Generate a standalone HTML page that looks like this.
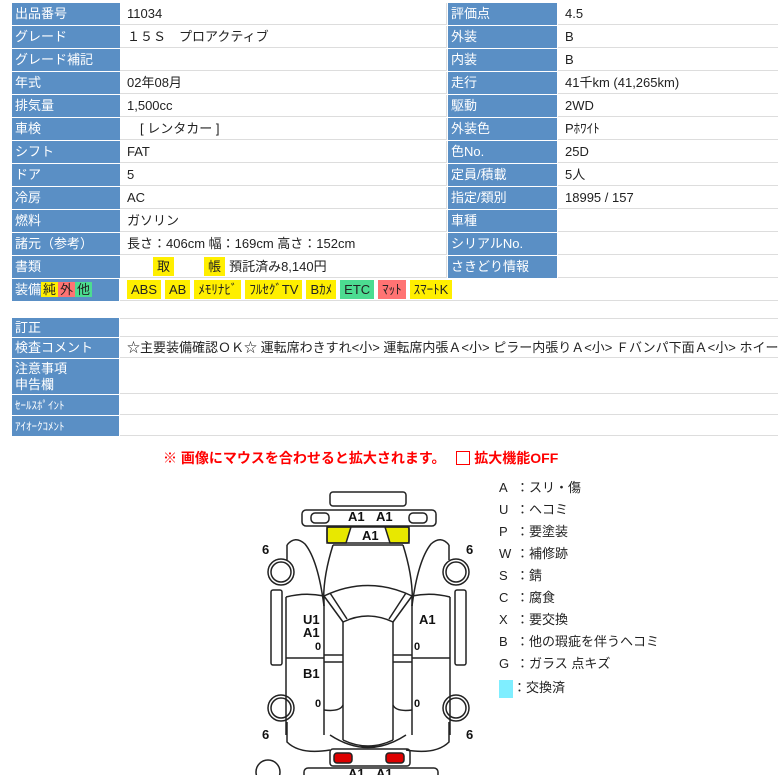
<!DOCTYPE html>
<html><head><meta charset="utf-8"><style>
body{margin:0;width:778px;height:775px;overflow:hidden;background:#fff;font-family:"Liberation Sans","Noto Sans CJK JP",sans-serif;font-size:13px;color:#222;position:relative}
.l{position:absolute;background:#5a8fc5;color:#fff;padding-left:3px;box-sizing:border-box}
.v{position:absolute;padding-left:7px;box-sizing:border-box;white-space:nowrap;overflow:hidden}
.y{background:#ffef00;padding:0 4px;display:inline-block;line-height:19px;margin-right:4px}
.g{background:#4cdc91}.p{background:#ff7373}
.lg{position:absolute;left:499px;font-size:13px;white-space:nowrap}
.lg b{font-weight:normal;display:inline-block;width:17px}
</style></head><body>
<div id="c"></div>
<script>
var L=[["出品番号","11034"],["グレード","１５Ｓ　プロアクティブ"],["グレード補記",""],["年式","02年08月"],["排気量","1,500cc"],["車検","　[ レンタカー ]"],["シフト","FAT"],["ドア","5"],["冷房","AC"],["燃料","ガソリン"],["諸元（参考）","長さ：406cm 幅：169cm 高さ：152cm"],["書類","　　<span class='y'>取</span>　　<span class='y'>帳</span>預託済み8,140円"]];
var R=[["評価点","4.5"],["外装","B"],["内装","B"],["走行","41千km (41,265km)"],["駆動","2WD"],["外装色","Pﾎﾜｲﾄ"],["色No.","25D"],["定員/積載","5人"],["指定/類別","18995 / 157"],["車種",""],["シリアルNo.",""],["さきどり情報",""]];
var h="";
for(var i=0;i<12;i++){var y=3+i*23;
h+="<div class='l' style='left:12px;top:"+y+"px;width:108px;height:22px;line-height:22px'>"+L[i][0]+"</div><div class='v' style='left:120px;top:"+y+"px;width:327px;height:22px;line-height:22px;border-bottom:1px solid #ddd;border-right:1px solid #ddd'>"+L[i][1]+"</div>";
h+="<div class='l' style='left:448px;top:"+y+"px;width:109px;height:22px;line-height:22px'>"+R[i][0]+"</div><div class='v' style='left:558px;top:"+y+"px;width:220px;height:22px;line-height:22px;border-bottom:1px solid #ddd'>"+R[i][1]+"</div>";}
h+="<div class='l' style='left:12px;top:279px;width:107px;height:22px;line-height:22px'>装備<span style='background:#ffef00;color:#222;padding:0 2px'>純</span><span style='background:#ff7373;color:#222;padding:0 2px'>外</span><span style='background:#4cdc91;color:#222;padding:0 2px'>他</span></div>";
h+="<div class='v' style='left:120px;top:279px;width:658px;height:22px;line-height:19px;padding-top:1px;border-bottom:1px solid #ddd'><span class='y'>ABS</span><span class='y'>AB</span><span class='y'>ﾒﾓﾘﾅﾋﾞ</span><span class='y'>ﾌﾙｾｸﾞTV</span><span class='y'>Bｶﾒ</span><span class='y g'>ETC</span><span class='y p'>ﾏｯﾄ</span><span class='y'>ｽﾏｰﾄK</span></div>";
var B=[["訂正",318,19],["検査コメント",338,20],["注意事項<br>申告欄",359,35],["<span style='font-size:11px'>ｾｰﾙｽﾎﾟｲﾝﾄ</span>",395,20],["<span style='font-size:11px'>ｱｲｵｰｸｺﾒﾝﾄ</span>",416,20]];
for(var j=0;j<5;j++){var b=B[j];h+="<div class='l' style='left:12px;top:"+b[1]+"px;width:107px;height:"+b[2]+"px;line-height:"+(j==2?"16px;padding-top:2px":b[2]+"px")+"'>"+b[0]+"</div><div class='v' style='left:120px;top:"+b[1]+"px;width:658px;height:"+b[2]+"px;line-height:"+b[2]+"px;border-bottom:1px solid #ddd;border-top:"+(j==0?"1px solid #ddd":"0")+"'>"+(j==1?"☆主要装備確認ＯＫ☆ 運転席わきすれ&lt;小&gt; 運転席内張Ａ&lt;小&gt; ピラー内張りＡ&lt;小&gt; Ｆバンパ下面Ａ&lt;小&gt; ホイールカバ":"")+"</div>";}
document.getElementById("c").innerHTML=h;
</script>
<div style="position:absolute;left:163px;top:448px;color:#f00;font-weight:bold;font-size:14px;white-space:nowrap">※ 画像にマウスを合わせると拡大されます。　 <span style="display:inline-block;width:12px;height:12px;border:1px solid #f00;vertical-align:-2px"></span> 拡大機能OFF</div>
<div class="lg" style="top:477px"><b>A</b>：スリ・傷</div>
<div class="lg" style="top:499px"><b>U</b>：ヘコミ</div>
<div class="lg" style="top:521px"><b>P</b>：要塗装</div>
<div class="lg" style="top:543px"><b>W</b>：補修跡</div>
<div class="lg" style="top:565px"><b>S</b>：錆</div>
<div class="lg" style="top:587px"><b>C</b>：腐食</div>
<div class="lg" style="top:609px"><b>X</b>：要交換</div>
<div class="lg" style="top:631px"><b>B</b>：他の瑕疵を伴うヘコミ</div>
<div class="lg" style="top:653px"><b>G</b>：ガラス 点キズ</div>
<div class="lg" style="top:677px"><span style="display:inline-block;width:14px;height:18px;background:#7feeff;vertical-align:middle"></span>：交換済</div>
<svg style="position:absolute;left:0;top:0" width="778" height="775" fill="none" stroke="#222" stroke-width="1.5" font-family="Liberation Sans" font-weight="bold" font-size="13">
<rect x="330" y="492" width="76" height="14" rx="3"/>
<rect x="302" y="510" width="134" height="16" rx="4"/>
<rect x="311" y="513" width="18" height="10" rx="4"/><rect x="409" y="513" width="18" height="10" rx="4"/>
<path d="M327 527 H351 L346 543 H327 Z" fill="#e8e800"/><path d="M385 527 H409 V543 H390 Z" fill="#e8e800"/>
<rect x="327" y="527" width="82" height="16" rx="2"/>
<path d="M333 545 Q322 580 324 606 M403 545 Q414 580 412 606 M333 545 H403"/>
<path d="M287 545 Q295 535 305 544 Q318 560 324 606 M449 545 Q441 535 431 544 Q418 560 412 606"/>
<path d="M287 545 V560 M449 545 V560"/>
<circle cx="281" cy="572" r="13"/><circle cx="281" cy="572" r="10"/><circle cx="456" cy="572" r="13"/><circle cx="456" cy="572" r="10"/>
<rect x="271" y="590" width="11" height="75" rx="2"/><rect x="455" y="590" width="11" height="75" rx="2"/>
<path d="M286 597 Q305 592 324 596 V735 M450 597 Q431 592 412 596 V735"/>
<path d="M286 597 V735 M450 597 V735"/>
<path d="M286 658 H324 M412 658 H450"/>
<path d="M324 596 Q368 575 412 596 M324 596 L343 622 M412 596 L393 622 M330 593 L347 619 M406 593 L389 619"/>
<path d="M343 622 Q368 610 393 622 V740 M343 622 V740"/>
<path d="M324 655 H343 M324 662 H343 M393 655 H412 M393 662 H412"/>
<path d="M324 710 Q340 712 343 705 M412 710 Q396 712 393 705"/>
<path d="M330 735 Q368 760 406 735 M343 740 Q368 752 393 740"/>
<circle cx="281" cy="708" r="13"/><circle cx="281" cy="708" r="10"/><circle cx="456" cy="708" r="13"/><circle cx="456" cy="708" r="10"/>
<path d="M287 722 V742 Q300 755 330 750 M449 722 V742 Q436 755 406 750"/>
<rect x="330" y="749" width="80" height="17" rx="3"/>
<rect x="334" y="753" width="18" height="10" rx="3" fill="#d00"/><rect x="386" y="753" width="18" height="10" rx="3" fill="#d00"/>
<rect x="304" y="768" width="134" height="16" rx="4"/>
<circle cx="268" cy="772" r="12"/>
<g fill="#111" stroke="none">
<text x="348" y="521">A1</text><text x="376" y="521">A1</text><text x="362" y="540">A1</text>
<text x="262" y="554">6</text><text x="466" y="554">6</text><text x="262" y="739">6</text><text x="466" y="739">6</text>
<text x="303" y="624">U1</text><text x="303" y="637">A1</text><text x="419" y="624">A1</text><text x="303" y="678">B1</text>
<text x="348" y="778">A1</text><text x="376" y="778">A1</text>
<text x="315" y="650" font-size="11">0</text><text x="414" y="650" font-size="11">0</text><text x="315" y="707" font-size="11">0</text><text x="414" y="707" font-size="11">0</text>
</g>
</svg>
</body></html>
